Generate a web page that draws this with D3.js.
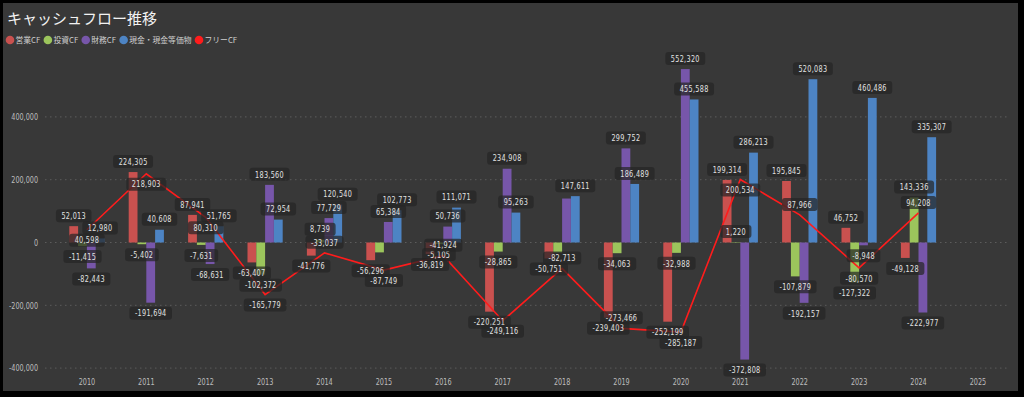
<!DOCTYPE html>
<html>
<head>
<meta charset="utf-8">
<script src="https://cdn.jsdelivr.net/npm/d3@7"></script>
<style>
  body { margin: 0; background: #000; }
  svg { display: block; }
</style>
</head>
<body>
<div id="chart"></div>
<script>
"use strict"

/* Data */
let years = ["2010", "2011", "2012", "2013", "2014", "2015", "2016", "2017",
             "2018", "2019", "2020", "2021", "2022", "2023", "2024", "2025"];
let seriesNames = ["営業CF", "投資CF", "財務CF", "現金・現金等価物"];
let lineName = "フリーCF";

let operatingCF = [52013, 224305, 87941, -63407, -41776, -56296, -36819, -220251,
                   -50751, -239403, -252199, 199314, 195845, 46752, -49128, null];
let investingCF = [-11415, -5402, -7631, -102372, 8739, -31453, -5105, -28865,
                   -31962, -34063, -32988, 1220, -107879, -127322, 143336, null];
let financingCF = [-82443, -191694, -68631, 183560, 77729, 65384, 50736, 234908,
                   140000, 299752, 552320, -372808, -192157, -8948, -222977, null];
let cashCF = [12980, 40608, 51765, 72954, 120540, 102773, 111071, 95263,
              147611, 186489, 455588, 286213, 520083, 460486, 335307, null];
let freeCF = [40598, 218903, 80310, -165779, -33037, -87749, -41924, -249116,
              -82713, -273466, -285187, 200534, 87966, -80570, 94208, null];

let yTicks = [-400000, -200000, 0, 200000, 400000];

/* Label placement (styling, not data) */
let hiddenLabels = ["投資CF|2015", "投資CF|2018", "財務CF|2018"];
let freeLabelSide = [1, 1, 1, 1, -1, 1, -1, 1, -1, -1, 1, 1, -1, 1, -1, 1];

/* Drawing config */
let svgWidth = 1024;
let svgHeight = 397;
let colors = ["#c9514f", "#9cc55c", "#7756aa", "#4d84c4"];
let lineColor = "#ff1c1c";
let numFont = "'DejaVu Sans Condensed', 'DejaVu Sans', sans-serif";
let jpFont = "'Noto Sans CJK JP', 'Noto Sans', sans-serif";
let squeeze = 0.8; // horizontal squeeze for the narrow number font

let svg = d3.select("#chart")
    .append("svg")
    .attr("width", svgWidth)
    .attr("height", svgHeight);

/* Panel */
svg.append("rect")
    .attr("x", 3)
    .attr("y", 3)
    .attr("width", 1015)
    .attr("height", 388)
    .attr("fill", "#383838");

/* Title */
svg.append("text")
    .attr("x", 7)
    .attr("y", 24)
    .attr("fill", "#f2f2f2")
    .style("font-family", jpFont)
    .style("font-size", "15px")
    .style("font-weight", "400")
    .text("キャッシュフロー推移");

/* Legend */
let legendItems = seriesNames.map(function (n, i) { return { name: n, color: colors[i] }; })
    .concat([{ name: lineName, color: lineColor }]);
let legendX = 10;
legendItems.forEach(function (item) {
    svg.append("circle")
        .attr("cx", legendX)
        .attr("cy", 40)
        .attr("r", 4.3)
        .attr("fill", item.color);
    let t = svg.append("text")
        .attr("x", legendX + 5.5)
        .attr("y", 43)
        .attr("fill", "#cfcfcf")
        .style("font-family", jpFont)
        .style("font-size", "7.8px")
        .text(item.name);
    legendX += 5.5 + t.node().getComputedTextLength() + 7.5;
});

/* Scales */
let xScale = d3.scaleBand()
    .domain(years)
    .range([57.2, 1007.6])
    .padding(0);

let xSub = d3.scaleBand()
    .domain(seriesNames)
    .range([-17.6, 17.6]);

let yScale = d3.scaleLinear()
    .domain([-400000, 400000])
    .range([368.1, 116.9]);

let fmt = d3.formatLocale({ decimal: ".", thousands: ",", grouping: [3], currency: ["", ""], minus: "-" })
    .format(",");

/* narrow text helper: squeezes a text horizontally around its anchor */
function narrowText(sel, x, y, anchor, size, color, str) {
    return sel.append("g")
        .attr("transform", "translate(" + x + "," + y + ") scale(" + squeeze + ",1)")
        .append("text")
        .attr("text-anchor", anchor)
        .attr("fill", color)
        .style("font-family", numFont)
        .style("font-size", size)
        .text(str);
}

/* Grid + y labels */
svg.append("g")
    .selectAll("line")
    .data(yTicks)
    .join("line")
    .attr("x1", 45)
    .attr("x2", 1010)
    .attr("y1", function (d) { return yScale(d); })
    .attr("y2", function (d) { return yScale(d); })
    .attr("stroke", "#5c5c5c")
    .attr("stroke-width", 1)
    .attr("stroke-dasharray", "1.5,3.5");

let yAxisG = svg.append("g");
yTicks.forEach(function (d) {
    narrowText(yAxisG, 38, yScale(d) + 3.2, "end", "9px", "#bdbdbd", fmt(d));
});

/* X labels */
let xAxisG = svg.append("g");
years.forEach(function (d) {
    narrowText(xAxisG, xScale(d) + xScale.bandwidth() / 2, 385, "middle", "9px", "#bdbdbd", d);
});

/* Bars */
let seriesValues = [operatingCF, investingCF, financingCF, cashCF];
let barData = [];
seriesNames.forEach(function (name, s) {
    years.forEach(function (year, i) {
        let v = seriesValues[s][i];
        if (v === null) return;
        barData.push({ name: name, year: year, value: v, color: colors[s] });
    });
});

function center(year) { return xScale(year) + xScale.bandwidth() / 2; }

svg.append("g")
    .selectAll("rect")
    .data(barData)
    .join("rect")
    .attr("x", function (d) { return center(d.year) + xSub(d.name); })
    .attr("width", xSub.bandwidth())
    .attr("y", function (d) { return Math.min(yScale(d.value), yScale(0)); })
    .attr("height", function (d) { return Math.abs(yScale(d.value) - yScale(0)); })
    .attr("fill", function (d) { return d.color; });

/* Free CF line */
let linePoints = years.map(function (y, i) { return { year: y, value: freeCF[i], side: freeLabelSide[i] }; })
    .filter(function (d) { return d.value !== null; });

let line = d3.line()
    .x(function (d) { return center(d.year); })
    .y(function (d) { return yScale(d.value); });

svg.append("path")
    .datum(linePoints)
    .attr("d", line)
    .attr("fill", "none")
    .attr("stroke", lineColor)
    .attr("stroke-width", 1.6);

/* Data labels */
let labels = [];
barData.forEach(function (d) {
    if (hiddenLabels.indexOf(d.name + "|" + d.year) >= 0) return;
    labels.push({
        x: center(d.year) + xSub(d.name) + xSub.bandwidth() / 2,
        y: yScale(d.value) + (d.value >= 0 ? -10.5 : 10.5),
        text: fmt(d.value)
    });
});
linePoints.forEach(function (d) {
    labels.push({
        x: center(d.year),
        y: yScale(d.value) + d.side * 10.5,
        text: fmt(d.value)
    });
});

let labelG = svg.append("g")
    .selectAll("g")
    .data(labels)
    .join("g")
    .attr("transform", function (d) { return "translate(" + d.x + "," + d.y + ")"; });

labelG.append("rect")
    .attr("fill", "#262626")
    .attr("fill-opacity", 0.72)
    .attr("rx", 3);

labelG.append("text")
    .attr("text-anchor", "middle")
    .attr("y", 3.2)
    .attr("transform", "scale(" + squeeze + ",1)")
    .attr("fill", "#e2e2e2")
    .style("font-family", numFont)
    .style("font-size", "9px")
    .style("letter-spacing", "0.4px")
    .text(function (d) { return d.text; });

labelG.each(function () {
    let g = d3.select(this);
    let w = g.select("text").node().getComputedTextLength() * squeeze;
    g.select("rect")
        .attr("x", -w / 2 - 5.5)
        .attr("y", -6.5)
        .attr("width", w + 11)
        .attr("height", 13);
});
</script>
</body>
</html>
